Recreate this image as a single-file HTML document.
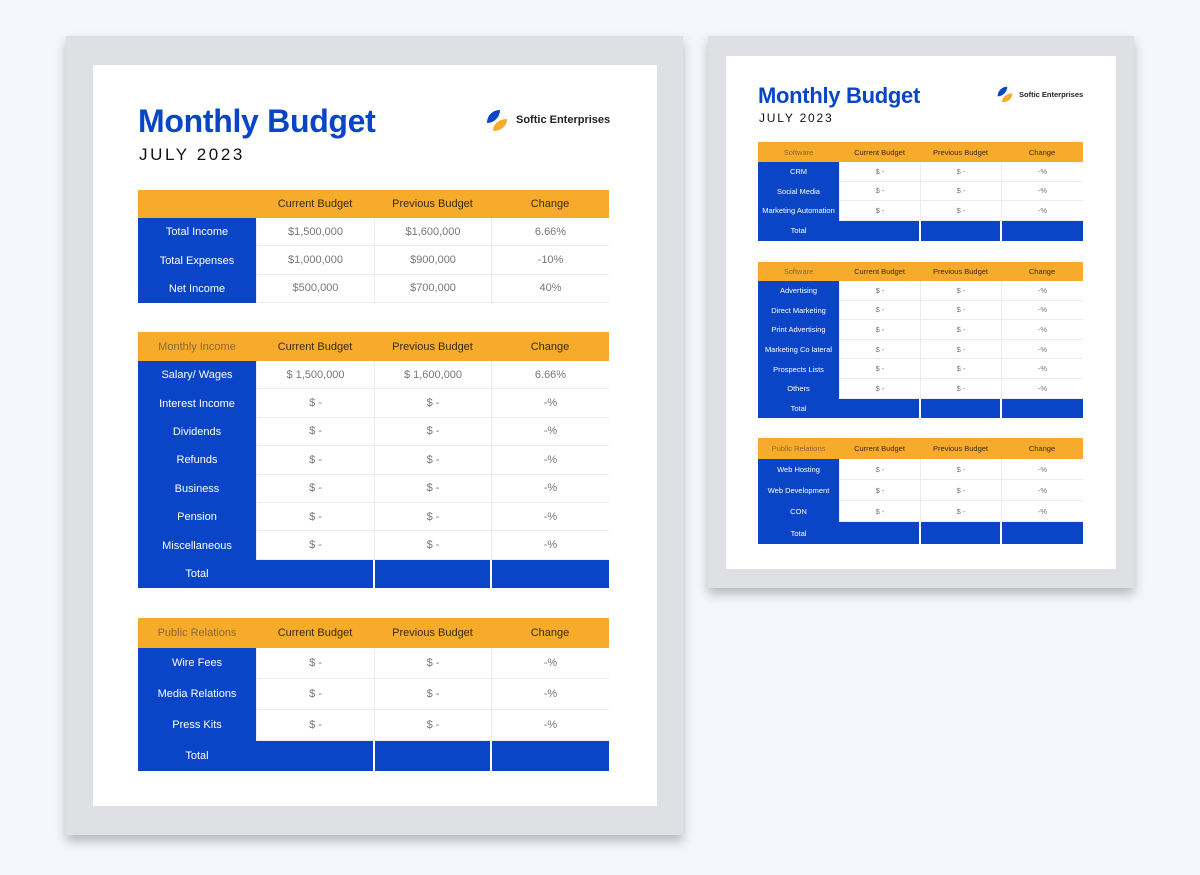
<!DOCTYPE html>
<html><head><meta charset="utf-8">
<style>
*{margin:0;padding:0;box-sizing:border-box}
body{width:1200px;height:875px;background:#f3f6fa;position:relative;overflow:hidden;font-family:"Liberation Sans",sans-serif}
.abs{position:absolute}
.frame{background:#dfe0e4;box-shadow:0 6px 10px rgba(0,0,0,0.25)}
.paper{background:#fff}
.title{color:#0a45c8;font-weight:bold;white-space:nowrap;letter-spacing:-0.3px}
.month{color:#111;white-space:nowrap}
.cell{position:absolute;display:flex;align-items:center;justify-content:center;white-space:nowrap}
.hd{background:#f7ab2a;color:#3a2a10}
.hd0{background:#f7ab2a;color:#8a6a35}
.lb{background:#0a45c8;color:#fff}
.vl{background:#fff;color:#777;border-bottom:1px solid #ececec;border-left:1px solid #ececec}
.tot{background:#0a45c8;color:#fff}
.logo-text{font-weight:bold;color:#222;white-space:nowrap}
</style></head><body>
<div class="abs frame" style="left:66px;top:36px;width:617px;height:799px"></div>
<div class="abs paper" style="left:93px;top:65px;width:564px;height:741px"></div>
<div class="abs frame" style="left:708px;top:36px;width:426px;height:552px"></div>
<div class="abs paper" style="left:726px;top:56px;width:390px;height:513px"></div>

<div class="abs title" style="left:138px;top:103px;font-size:32px">Monthly Budget</div>
<div class="abs month" style="left:139px;top:145px;font-size:17px;letter-spacing:2.6px">JULY 2023</div>
<svg class="abs" style="left:485px;top:109px" width="24" height="23" viewBox="0 0 24 23">
<path d="M2 14 C2 6 8 1 15 1 C15 8 9 14 2 14Z" fill="#0a45c8"/>
<path d="M8 22 C8 15 14 10 22 10 C22 17 16 22 8 22Z" fill="#f7ab2a"/></svg>
<div class="abs logo-text" style="left:516px;top:114px;font-size:11px">Softic Enterprises</div>

<div class="abs title" style="left:758px;top:83px;font-size:22px">Monthly Budget</div>
<div class="abs month" style="left:759px;top:111px;font-size:12px;letter-spacing:1.8px">JULY 2023</div>
<svg class="abs" style="left:996px;top:86px" width="18" height="17" viewBox="0 0 24 23">
<path d="M2 14 C2 6 8 1 15 1 C15 8 9 14 2 14Z" fill="#0a45c8"/>
<path d="M8 22 C8 15 14 10 22 10 C22 17 16 22 8 22Z" fill="#f7ab2a"/></svg>
<div class="abs logo-text" style="left:1019px;top:90px;font-size:7.5px">Softic Enterprises</div>

<script>
const tables=[
 {x:[138,256,374,491,609],top:190,hh:28,rh:28.4,fs:11,first:'',rows:[['Total Income','$1,500,000','$1,600,000','6.66%'],['Total Expenses','$1,000,000','$900,000','-10%'],['Net Income','$500,000','$700,000','40%']],total:false},
 {x:[138,256,374,491,609],top:332,hh:29,rh:28.4,fs:11,first:'Monthly Income',rows:[['Salary/ Wages','$ 1,500,000','$ 1,600,000','6.66%'],['Interest Income','$ -','$ -','-%'],['Dividends','$ -','$ -','-%'],['Refunds','$ -','$ -','-%'],['Business','$ -','$ -','-%'],['Pension','$ -','$ -','-%'],['Miscellaneous','$ -','$ -','-%']],total:true,th:28},
 {x:[138,256,374,491,609],top:618,hh:30,rh:30.9,fs:11,first:'Public Relations',rows:[['Wire Fees','$ -','$ -','-%'],['Media Relations','$ -','$ -','-%'],['Press Kits','$ -','$ -','-%']],total:true,th:30},
 {x:[758,839,920,1001,1083],top:142,hh:20,rh:19.5,fs:7.5,first:'Software',rows:[['CRM','$ -','$ -','-%'],['Social Media','$ -','$ -','-%'],['Marketing Automation','$ -','$ -','-%']],total:true,th:20},
 {x:[758,839,920,1001,1083],top:262,hh:19,rh:19.6,fs:7.5,first:'Software',rows:[['Advertising','$ -','$ -','-%'],['Direct Marketing','$ -','$ -','-%'],['Print Advertising','$ -','$ -','-%'],['Marketing Co lateral','$ -','$ -','-%'],['Prospects Lists','$ -','$ -','-%'],['Others','$ -','$ -','-%']],total:true,th:19},
 {x:[758,839,920,1001,1083],top:438,hh:21,rh:21,fs:7.5,first:'Public Relations',rows:[['Web Hosting','$ -','$ -','-%'],['Web Development','$ -','$ -','-%'],['CON','$ -','$ -','-%']],total:true,th:22}
];
const heads=['Current Budget','Previous Budget','Change'];
function cell(cls,l,t,w,h,txt,fs){
 const d=document.createElement('div');
 d.className='cell '+cls;
 d.style.cssText='left:'+l+'px;top:'+t+'px;width:'+w+'px;height:'+h+'px;font-size:'+fs+'px';
 d.textContent=txt;
 document.body.appendChild(d);
 return d;
}
tables.forEach((tb,ti)=>{
 const x=tb.x;
 let d=cell('hd0',x[0],tb.top,x[1]-x[0],tb.hh,tb.first,tb.fs);
 
 
 for(let c=0;c<3;c++){
  d=cell('hd',x[c+1],tb.top,x[c+2]-x[c+1],tb.hh,heads[c],tb.fs);
  
  
 }
 let y=tb.top+tb.hh;
 tb.rows.forEach((r)=>{
  d=cell('lb',x[0],y,x[1]-x[0],tb.rh,r[0],tb.fs);
  
  
  for(let c=0;c<3;c++){
   d=cell('vl',x[c+1],y,x[c+2]-x[c+1],tb.rh,r[c+1],tb.fs);
   
   
  }
  y+=tb.rh;
 });
 if(tb.total){
  d=cell('tot',x[0],y,x[2]-x[0]-1,tb.th,'',tb.fs);
  
  
  const s=document.createElement('span');
  s.style.cssText='position:absolute;left:0;width:'+(x[1]-x[0])+'px;text-align:center';
  s.textContent='Total';
  d.appendChild(s);
  d=cell('tot',x[2]+1,y,x[3]-x[2]-2,tb.th,'',tb.fs);
  
  
  d=cell('tot',x[3]+1,y,x[4]-x[3]-1,tb.th,'',tb.fs);
  
  
 }
});
</script>
</body></html>
